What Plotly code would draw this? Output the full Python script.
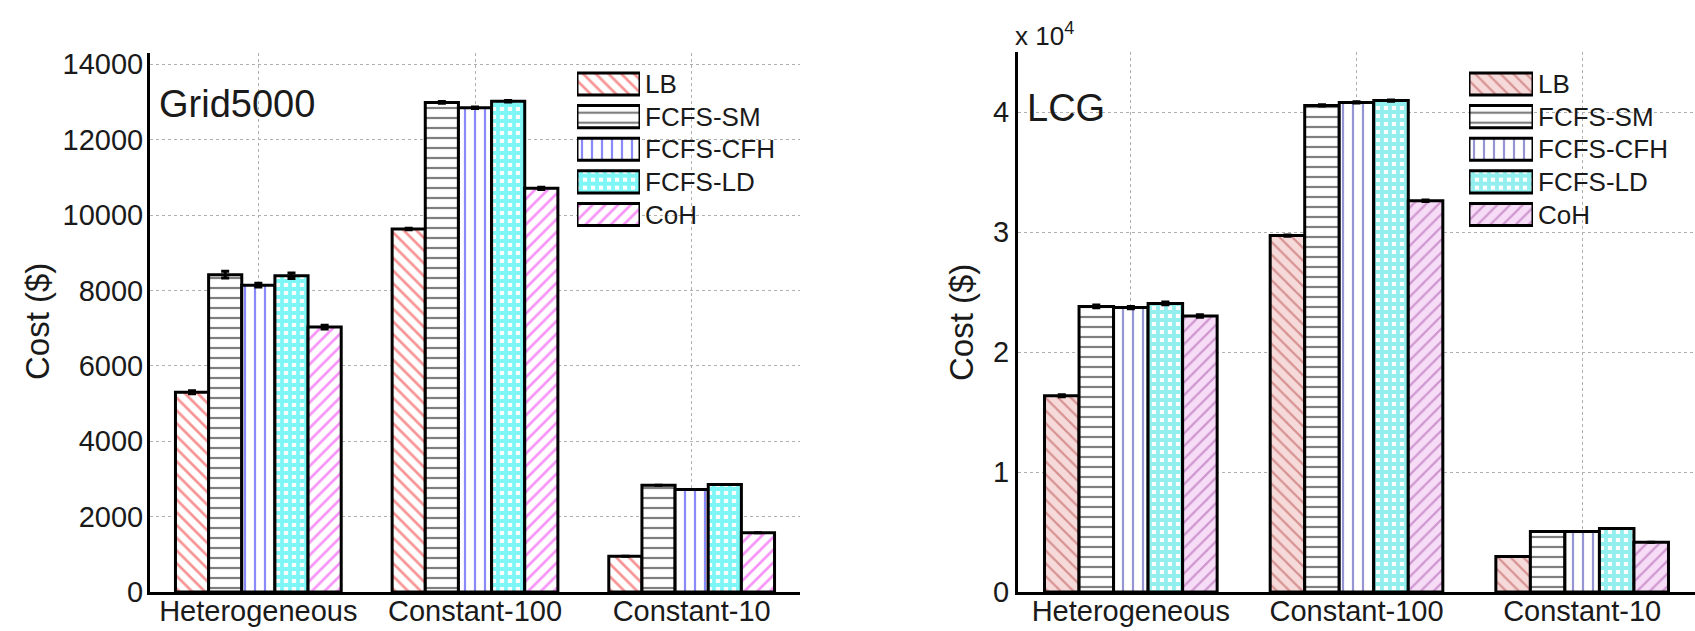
import plotly.graph_objects as go

# ---------------- data ----------------
categories = ["Heterogeneous", "Constant-100", "Constant-10"]
series_names = ["LB", "FCFS-SM", "FCFS-CFH", "FCFS-LD", "CoH"]

# Grid5000 (left)
g5k_LB = [5300, 9630, 950]
g5k_SM = [8420, 12990, 2830]
g5k_CFH = [8140, 12850, 2720]
g5k_LD = [8390, 13020, 2850]
g5k_CoH = [7030, 10710, 1570]
g5k_err_LB = [40, 20, 0]
g5k_err_SM = [90, 20, 0]
g5k_err_CFH = [50, 20, 0]
g5k_err_LD = [70, 20, 0]
g5k_err_CoH = [50, 30, 0]

# LCG (right)
lcg_LB = [16350, 29700, 2950]
lcg_SM = [23800, 40550, 5050]
lcg_CFH = [23700, 40800, 5050]
lcg_LD = [24050, 40950, 5300]
lcg_CoH = [23000, 32600, 4150]
lcg_err_LB = [80, 60, 0]
lcg_err_SM = [120, 60, 0]
lcg_err_CFH = [100, 60, 0]
lcg_err_LD = [120, 60, 0]
lcg_err_CoH = [100, 60, 0]

g5k_ticks = [0, 2000, 4000, 6000, 8000, 10000, 12000, 14000]
lcg_tickvals = [0, 10000, 20000, 30000, 40000]
lcg_ticktext = ["0", "1", "2", "3", "4"]

FONT = "Liberation Sans, Arial, sans-serif"
TXT = "#1a1a1a"

# styles per series: (shape, fg, bg, size, solidity)
left_styles = [
    ("\\", "#f02828", "white", 9, 0.3),
    ("-", "#000000", "white", 10, 0.22),
    ("|", "#1414f0", "white", 10, 0.22),
    ("+", "#00eeee", "white", 8, 0.72),
    ("/", "#f028f0", "white", 9, 0.3),
]
right_styles = [
    ("\\", "#b84848", "#f6dada", 9, 0.25),
    ("-", "#000000", "white", 10, 0.22),
    ("|", "#2c2ca8", "white", 10, 0.22),
    ("+", "#28dede", "white", 8, 0.72),
    ("/", "#a850a8", "#f6dcf6", 9, 0.25),
]

def pattern(st):
    return dict(shape=st[0], fgcolor=st[1], bgcolor=st[2], size=st[3],
                solidity=st[4], fillmode="overlay")

fig = go.Figure()

left_vals = [g5k_LB, g5k_SM, g5k_CFH, g5k_LD, g5k_CoH]
left_errs = [g5k_err_LB, g5k_err_SM, g5k_err_CFH, g5k_err_LD, g5k_err_CoH]
right_vals = [lcg_LB, lcg_SM, lcg_CFH, lcg_LD, lcg_CoH]
right_errs = [lcg_err_LB, lcg_err_SM, lcg_err_CFH, lcg_err_LD, lcg_err_CoH]

for name, vals, errs, st in zip(series_names, left_vals, left_errs, left_styles):
    fig.add_trace(go.Bar(
        x=categories, y=vals, name=name, showlegend=False,
        xaxis="x", yaxis="y", offsetgroup=name,
        error_y=dict(type="data", array=errs, color="black", thickness=3, width=4),
        marker=dict(color=st[2], line=dict(color="black", width=3), pattern=pattern(st)),
    ))

for name, vals, errs, st in zip(series_names, right_vals, right_errs, right_styles):
    fig.add_trace(go.Bar(
        x=categories, y=vals, name=name, showlegend=False,
        xaxis="x2", yaxis="y2", offsetgroup=name,
        error_y=dict(type="data", array=errs, color="black", thickness=3, width=4),
        marker=dict(color=st[2], line=dict(color="black", width=3), pattern=pattern(st)),
    ))

# legend swatches: one small horizontal bar per series in helper axes
for styles, xa, ya in [(left_styles, "x3", "y3"), (right_styles, "x4", "y4")]:
    for name, st in zip(series_names, styles):
        fig.add_trace(go.Bar(
            y=[name], x=[1], orientation="h", xaxis=xa, yaxis=ya, width=0.68,
            showlegend=False, hoverinfo="skip", offsetgroup="leg",
            marker=dict(color=st[2], line=dict(color="black", width=3), pattern=pattern(st)),
        ))

W, H = 1695, 631
def px(x):
    return x / W
def py(y):
    return (H - y) / H

grid = dict(showgrid=True, gridcolor="#b0b0b0", griddash="dot", gridwidth=1)
ytickfont = dict(family=FONT, size=29, color=TXT)
xtickfont = dict(family=FONT, size=29, color=TXT)
legfont = dict(family=FONT, size=26, color=TXT)

fig.update_layout(
    width=W, height=H,
    margin=dict(l=0, r=0, t=0, b=0, autoexpand=False),
    paper_bgcolor="white", plot_bgcolor="rgba(0,0,0,0)",
    barmode="group", bargap=0.235, bargroupgap=0,
    font=dict(family=FONT, color=TXT),
    xaxis=dict(domain=[px(150), px(800)], anchor="y", type="category", automargin=False,
               showline=True, linecolor="black", linewidth=3, ticks="",
               tickfont=xtickfont, ticklabelstandoff=-9, **grid),
    yaxis=dict(domain=[py(592), py(53)], anchor="x", range=[0, 14300], automargin=False,
               tickvals=g5k_ticks, tickformat="d", showline=True, linecolor="black",
               linewidth=3, ticks="", tickfont=ytickfont, zeroline=False,
               ticklabelstandoff=-2, **grid),
    xaxis2=dict(domain=[px(1018), 1.0], anchor="y2", type="category", automargin=False,
                showline=True, linecolor="black", linewidth=3, ticks="",
                tickfont=xtickfont, ticklabelstandoff=-9, **grid),
    yaxis2=dict(domain=[py(592), py(52)], anchor="x2", range=[0, 45000], automargin=False,
                tickvals=lcg_tickvals, ticktext=lcg_ticktext, showline=True,
                linecolor="black", linewidth=3, ticks="", tickfont=ytickfont,
                zeroline=False, ticklabelstandoff=0, **grid),
    xaxis3=dict(domain=[px(577), px(640)], anchor="y3", range=[0, 1], visible=False,
                fixedrange=True, automargin=False),
    yaxis3=dict(domain=[py(230.8), py(67.7)], anchor="x3", autorange="reversed",
                type="category", side="right", showgrid=False, zeroline=False,
                showline=False, ticks="", automargin=False,
                ticklabelstandoff=4, tickfont=legfont, fixedrange=True),
    xaxis4=dict(domain=[px(1469), px(1533)], anchor="y4", range=[0, 1], visible=False,
                fixedrange=True, automargin=False),
    yaxis4=dict(domain=[py(230.8), py(67.7)], anchor="x4", autorange="reversed",
                type="category", side="right", showgrid=False, zeroline=False,
                showline=False, ticks="", automargin=False,
                ticklabelstandoff=4, tickfont=legfont, fixedrange=True),
    annotations=[
        dict(text="Grid5000", x=px(157), y=py(104), xref="paper", yref="paper",
             xanchor="left", yanchor="middle", showarrow=False,
             font=dict(family=FONT, size=38, color=TXT)),
        dict(text="LCG", x=px(1025), y=py(108), xref="paper", yref="paper",
             xanchor="left", yanchor="middle", showarrow=False,
             font=dict(family=FONT, size=38, color=TXT)),
        dict(text="Cost ($)", x=px(38), y=py(322), xref="paper", yref="paper",
             textangle=-90, xanchor="center", yanchor="middle", showarrow=False,
             font=dict(family=FONT, size=33, color=TXT)),
        dict(text="Cost ($)", x=px(962), y=py(322), xref="paper", yref="paper",
             textangle=-90, xanchor="center", yanchor="middle", showarrow=False,
             font=dict(family=FONT, size=33, color=TXT)),
        dict(text="x 10<sup>4</sup>", x=px(1013), y=py(35), xref="paper", yref="paper",
             xanchor="left", yanchor="middle", showarrow=False,
             font=dict(family=FONT, size=26, color=TXT)),
    ],
)

fig.write_html("out.html", config={"displayModeBar": False},
               post_script="document.body.style.margin='0';")
